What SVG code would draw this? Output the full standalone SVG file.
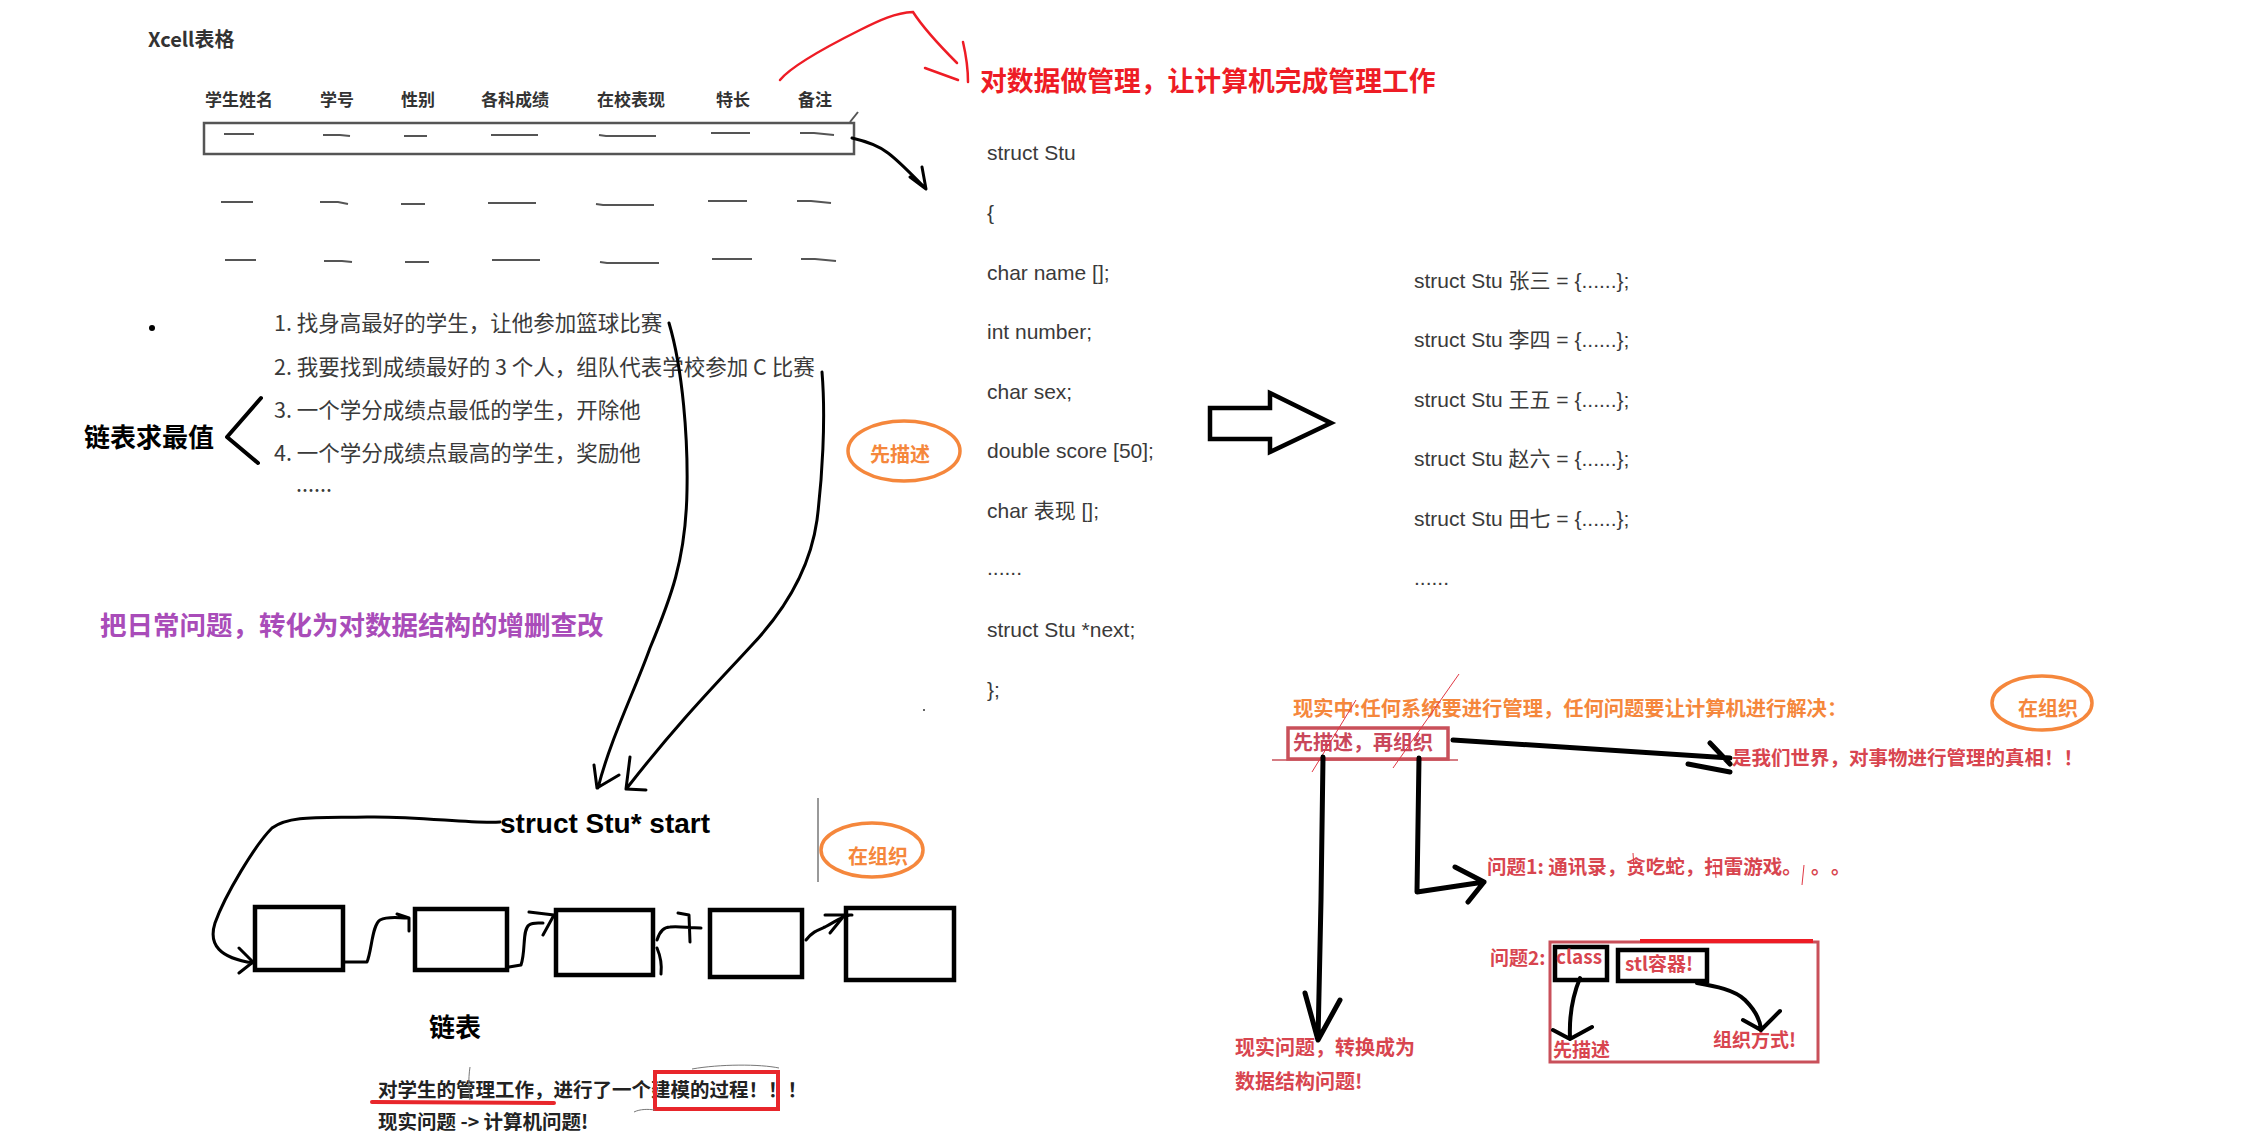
<svg xmlns="http://www.w3.org/2000/svg" width="2247" height="1137" viewBox="0 0 2247 1137">
<style>
.cjkb{font-family:"Noto Sans CJK SC","Liberation Sans",sans-serif;font-weight:bold}
.code{font-family:"Liberation Sans","Noto Sans CJK SC",sans-serif;font-size:21px;fill:#3a3a3a}
.list{font-family:"Noto Sans CJK SC","Liberation Sans",sans-serif;font-size:21.5px;fill:#3a3a3a}
.hdr{font-size:17px;fill:#333}
.dash{fill:none;stroke:#555;stroke-width:2}
.ink{fill:none;stroke:#000;stroke-linecap:round;stroke-linejoin:round}
.box{fill:none;stroke:#000;stroke-width:4.5}
.oval{fill:none;stroke:#f5873c;stroke-width:3.5}
.orange{fill:#f5873c}
.red{fill:#d8454f}
.thin{fill:none;stroke:#e03844;stroke-width:1}
.mred{fill:none;stroke:#c9505a}
</style>
<rect width="2247" height="1137" fill="#fff"/>

<g id="table">
<text class="cjkb" x="148" y="47" font-size="20" fill="#333">Xcell表格</text>
<g class="cjkb hdr">
<text x="205" y="106">学生姓名</text><text x="320" y="106">学号</text><text x="401" y="106">性别</text><text x="481" y="106">各科成绩</text><text x="597" y="106">在校表现</text><text x="716" y="106">特长</text><text x="798" y="106">备注</text>
</g>
<rect x="204" y="123" width="650" height="31" fill="none" stroke="#555" stroke-width="2.5"/>
<path class="dash" d="M850,122 L858,112"/>
<path class="dash" d="M224,134 H254 M323,135 H340 L350,136 M404,136 H427 M491,135 H538 M599,135 L606,136 H656 M711,133 H750 M800,133 H814 L834,135"/>
<path class="dash" d="M221,202 H253 M320,202 H338 L348,204 M401,204 H425 M488,203 H536 M596,204 L603,205 H654 M708,201 H747 M797,201 H811 L831,203"/>
<path class="dash" d="M225,260 H256 M324,261 H342 L352,262 M405,262 H429 M492,260 H540 M600,262 L607,263 H659 M712,259 H752 M801,259 H815 L836,261"/>
</g>

<g id="tasks">
<circle cx="152" cy="328" r="3" fill="#000"/>
<text class="list" x="274" y="331">1. 找身高最好的学生，让他参加篮球比赛</text>
<text class="list" x="274" y="375">2. 我要找到成绩最好的 3 个人，组队代表学校参加 C 比赛</text>
<text class="list" x="274" y="418">3. 一个学分成绩点最低的学生，开除他</text>
<text class="list" x="274" y="461">4. 一个学分成绩点最高的学生，奖励他</text>
<text class="list" x="296" y="492">......</text>
<text class="cjkb" x="84" y="447" font-size="26" fill="#000">链表求最值</text>
<path class="ink" stroke-width="4" d="M261,398 L227,437 L258,463"/>
</g>

<g id="purple-note">
<text class="cjkb" x="100" y="635" font-size="26.5" fill="#a94cb9">把日常问题，转化为对数据结构的增删查改</text>
</g>

<g id="title">
<text class="cjkb" x="980" y="91" font-size="26.8" fill="#ee1c25">对数据做管理，让计算机完成管理工作</text>
</g>

<g id="struct-def">
<text class="code" x="987" y="160">struct Stu</text>
<text class="code" x="987" y="220">{</text>
<text class="code" x="987" y="280">char name [];</text>
<text class="code" x="987" y="339">int number;</text>
<text class="code" x="987" y="399">char sex;</text>
<text class="code" x="987" y="458">double score [50];</text>
<text class="code" x="987" y="518">char 表现 [];</text>
<text class="code" x="987" y="575">......</text>
<text class="code" x="987" y="637">struct Stu *next;</text>
<text class="code" x="987" y="697">};</text>
<circle cx="924" cy="710" r="1" fill="#333"/>
</g>

<g id="instances">
<text class="code" x="1414" y="288">struct Stu 张三 = {......};</text>
<text class="code" x="1414" y="347">struct Stu 李四 = {......};</text>
<text class="code" x="1414" y="407">struct Stu 王五 = {......};</text>
<text class="code" x="1414" y="466">struct Stu 赵六 = {......};</text>
<text class="code" x="1414" y="526">struct Stu 田七 = {......};</text>
<text class="code" x="1414" y="585">......</text>
</g>

<g id="hollow-arrow">
<polygon points="1210,408 1270,408 1270,393 1331,423 1270,452 1270,439 1210,439" fill="#fff" stroke="#000" stroke-width="4.5" stroke-linejoin="miter"/>
</g>

<g id="oval-describe">
<ellipse cx="904" cy="451" rx="56" ry="30" class="oval"/>
<text class="cjkb orange" x="900" y="462" font-size="20" text-anchor="middle">先描述</text>
</g>

<g id="oval-organize-mid">
<line x1="818" y1="798" x2="818" y2="882" stroke="#999" stroke-width="2"/>
<ellipse cx="872" cy="850" rx="51" ry="27" class="oval"/>
<text class="cjkb orange" x="878" y="864" font-size="20" text-anchor="middle">在组织</text>
</g>

<g id="linked-list">
<text x="500" y="833" font-family="Liberation Sans, sans-serif" font-weight="bold" font-size="28" fill="#000">struct Stu* start</text>
<rect class="box" x="255" y="907" width="88" height="63"/>
<rect class="box" x="415" y="909" width="92" height="61"/>
<rect class="box" x="556" y="910" width="97" height="65"/>
<rect class="box" x="710" y="910" width="92" height="67"/>
<rect class="box" x="846" y="908" width="108" height="72"/>
<text class="cjkb" x="429" y="1037" font-size="26" fill="#000">链表</text>
</g>

<g id="modeling-note">
<text class="cjkb" x="378" y="1097" font-size="19.5" fill="#222">对学生的管理工作，进行了一个建模的过程！！！</text>
<text class="cjkb" x="378" y="1129" font-size="19.5" fill="#222">现实问题 -&gt; 计算机问题!</text>
<path d="M372,1102 L554,1103" stroke="#e8262b" stroke-width="4" fill="none" stroke-linecap="round"/>
<rect x="655" y="1072" width="123" height="37" fill="none" stroke="#e8262b" stroke-width="4"/>
<path d="M470,1067 C468,1080 469,1092 470,1100 M692,1069 C720,1064 760,1064 779,1068 M634,1112 C640,1109 648,1109 655,1110" fill="none" stroke="#777" stroke-width="1"/>
</g>

<g id="summary">
<text class="cjkb orange" x="1293" y="716" font-size="20.3">现实中:任何系统要进行管理，任何问题要让计算机进行解决：</text>
<rect x="1288" y="728" width="160" height="31" class="mred" stroke-width="3.5"/>
<path d="M1272,760 L1458,760" class="mred" stroke-width="1.5"/>
<text class="cjkb" x="1293" y="750" font-size="20" fill="#c9475a">先描述，再组织</text>
<path class="thin" d="M1459,674 L1393,768 M1356,700 L1312,772"/>
<text class="cjkb red" x="1732" y="765" font-size="19.5">是我们世界，对事物进行管理的真相！！</text>
<ellipse cx="2042" cy="703" rx="50" ry="27" class="oval"/>
<text class="cjkb orange" x="2048" y="716" font-size="20" text-anchor="middle">在组织</text>
<text class="cjkb red" x="1487" y="874" font-size="19.5">问题1: 通讯录，贪吃蛇，扫雷游戏。</text>
<text class="cjkb red" x="1811" y="874" font-size="19.5">。</text>
<text class="cjkb red" x="1831" y="874" font-size="19.5">。</text>
<path class="thin" d="M1633,853 L1634,868 M1715,862 L1716,878 M1804,865 L1802,885"/>
<text class="cjkb red" x="1235" y="1055" font-size="20">现实问题，转换成为</text>
<text class="cjkb red" x="1235" y="1089" font-size="20">数据结构问题!</text>
</g>

<g id="problem2">
<rect x="1550" y="942" width="268" height="120" class="mred" stroke-width="3"/>
<path d="M1640,941 L1813,941" stroke="#ee1c25" stroke-width="4" fill="none"/>
<text class="cjkb red" x="1490" y="965" font-size="19">问题2:</text>
<rect class="box" x="1555" y="947" width="52" height="33" stroke-width="4"/>
<text class="cjkb red" x="1556" y="964" font-size="19">class</text>
<rect class="box" x="1618" y="950" width="89" height="31" stroke-width="4"/>
<text class="cjkb red" x="1625" y="971" font-size="19">stl容器!</text>
<text class="cjkb red" x="1553" y="1057" font-size="19">先描述</text>
<text class="cjkb red" x="1713" y="1047" font-size="19">组织方式!</text>
</g>

<g id="connectors">
<path d="M780,80 C792,65 830,45 860,30 C880,20 895,13 913,12 C922,26 940,46 957,63" fill="none" stroke="#ee1c25" stroke-width="2.5" stroke-linecap="round"/>
<path d="M925,68 L958,80 M963,42 C966,55 968,70 968,82" fill="none" stroke="#ee1c25" stroke-width="2.5" stroke-linecap="round"/>
<path class="ink" stroke-width="3" d="M852,138 C865,141 878,145 888,153 C900,162 912,175 925,188 M910,177 L926,189 L922,167"/>
<path class="ink" stroke-width="3" d="M669,323 C683,370 688,440 687,490 C686,560 670,600 650,648 C635,690 610,740 598,788 M594,765 L597,788 L619,775"/>
<path class="ink" stroke-width="3" d="M822,372 C826,420 822,480 817,520 C810,570 785,610 752,645 C720,680 680,720 627,788 M630,757 L626,789 L646,790"/>
<path class="ink" stroke-width="3" d="M500,822 C470,824 420,816 367,817 C320,818 290,815 272,828 C255,845 225,895 215,923 C208,945 220,958 253,963 M239,948 L253,962 L239,973"/>
<path class="ink" stroke-width="3" d="M345,962 L367,962 C372,950 372,925 380,920 C388,916 398,918 407,918 M397,914 L409,918 L409,931"/>
<path class="ink" stroke-width="3" d="M509,967 L521,965 C526,950 522,930 529,925 C533,922 538,923 543,923 M529,912 L554,915 L543,935"/>
<path class="ink" stroke-width="3" d="M657,940 C660,930 665,927 670,927 C680,926 688,928 701,928 M678,913 L689,915 L690,942 M657,948 C660,955 662,965 661,974"/>
<path class="ink" stroke-width="3" d="M806,940 C812,932 818,930 825,927 C835,922 842,916 850,915 M825,915 L852,915 M830,933 L843,917"/>
<path class="ink" stroke-width="5" d="M1453,740 L1730,758 M1710,743 L1730,764 M1688,764 L1730,772"/>
<path class="ink" stroke-width="5" d="M1323,757 L1321,900 L1318,1040 M1305,993 L1318,1040 L1340,1000"/>
<path class="ink" stroke-width="5" d="M1419,758 L1417,892 L1484,882 M1455,867 L1484,882 L1468,902"/>
<path class="ink" stroke-width="4" d="M1580,978 C1573,995 1569,1015 1570,1038 M1553,1030 L1570,1039 L1592,1027"/>
<path class="ink" stroke-width="4" d="M1697,983 C1715,986 1735,990 1745,1000 C1755,1010 1760,1020 1761,1029 M1743,1020 L1761,1030 L1780,1011"/>
</g>
</svg>
